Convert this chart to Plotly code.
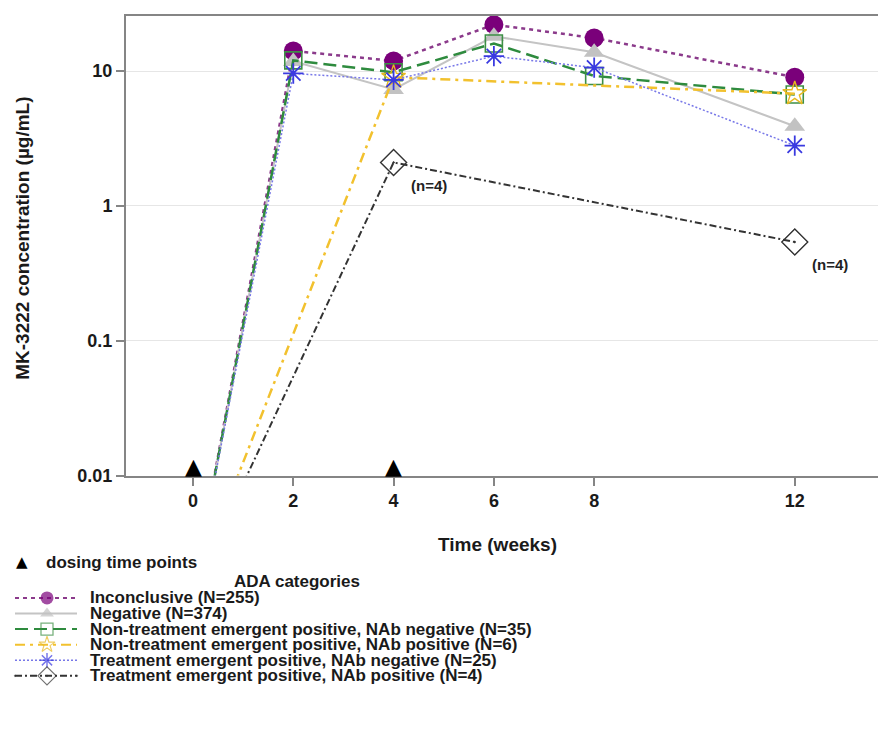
import numpy as np
import plotly.graph_objects as go

# ---- data -------------------------------------------------------------
weeks = [0, 2, 4, 6, 8, 12]
inconclusive = [0.0014, 14.1, 11.9, 22.1, 17.6, 9.0]
negative = [0.0014, 11.8, 7.3, 18.1, 13.8, 3.9]
nte_nab_neg = [0.0014, 12.0, 9.8, 16.0, 9.2, 6.7]
nte_nab_pos_weeks = [0, 4, 12]
nte_nab_pos = [0.0014, 9.0, 6.8]
te_nab_neg = [0.0014, 9.6, 8.6, 12.9, 10.6, 2.8]
te_nab_pos_weeks = [0, 4, 12]
te_nab_pos = [0.0014, 2.1, 0.54]
te_nab_pos_n = ["(n=4)", "(n=4)"]

dosing_weeks = [0, 4]

series_names = [
    "Inconclusive (N=255)",
    "Negative (N=374)",
    "Non-treatment emergent positive, NAb negative (N=35)",
    "Non-treatment emergent positive, NAb positive (N=6)",
    "Treatment emergent positive, NAb negative (N=25)",
    "Treatment emergent positive, NAb positive (N=4)",
]

x_tick_vals = [0, 2, 4, 6, 8, 12]
y_tick_vals = [0.01, 0.1, 1, 10]
y_tick_text = ["0.01", "0.1", "1", "10"]

# ---- styling ------------------------------------------------------------
W, H = 878, 749
FONT = "Liberation Sans"
TXT = "#1a1a1a"
AXIS = "#858585"


def bold(s):
    return f"<b>{s}</b>"


styles = [
    dict(lc="#8b3a8b", lw=2.5, dash="4px,4px", sym="circle", mc="#7a007a", size=19, ml=0),
    dict(lc="#c4c4c4", lw=2.0, dash="solid", sym="triangle-up", mc="#c2c2c2", size=18, ml=0),
    dict(lc="#2e8b3e", lw=2.5, dash="13px,6px", sym="square-open", mc="#3d8f45", size=17, ml=1.6),
    dict(lc="#f2c12e", lw=2.5, dash="10px,5px,3px,5px", sym="star-open", mc="#e8b820", size=18, ml=1.4),
    dict(lc="#7878e8", lw=1.5, dash="2px,2px", sym="asterisk-open", mc="#3a3ae0", size=17, ml=1.8),
    dict(lc="#333333", lw=2.0, dash="7px,3px,2px,3px", sym="diamond-open-dot", mc="#333333", size=20, ml=1.4),
]

series_x = [weeks, weeks, weeks, nte_nab_pos_weeks, weeks, te_nab_pos_weeks]
series_y = [inconclusive, negative, nte_nab_neg, nte_nab_pos, te_nab_neg, te_nab_pos]

fig = go.Figure()

# main concentration-time curves
for name, xs, ys, st in zip(series_names, series_x, series_y, styles):
    fig.add_trace(go.Scatter(
        x=xs, y=ys, name=name, mode="lines+markers",
        line=dict(color=st["lc"], width=st["lw"], dash=st["dash"]),
        marker=dict(symbol=st["sym"], size=st["size"], color=st["mc"],
                    line=dict(color=st["mc"], width=st["ml"])),
        showlegend=False, xaxis="x", yaxis="y",
    ))

# ---- hand-built legend drawn on a full-page pixel axis -------------------
LEG_X0, LEG_XM, LEG_X1 = 15, 47, 77
LEG_TEXT_X = 88
LEG_ROW0, LEG_DY = 606, 15.8
for i, st in enumerate(styles):
    ry = LEG_ROW0 + i * LEG_DY
    fig.add_trace(go.Scatter(
        x=[LEG_X0, LEG_XM, LEG_X1], y=[ry, ry, ry], mode="lines+markers",
        line=dict(color=st["lc"], width=min(st["lw"], 2.0), dash=st["dash"]),
        marker=dict(symbol=st["sym"], size=[0, round(st["size"] * 0.68), 0],
                    color=st["mc"], line=dict(color=st["mc"], width=st["ml"] * 0.8)),
        showlegend=False, xaxis="x2", yaxis="y2", hoverinfo="skip",
    ))

LEG_FONT = dict(family=FONT, size=17, color=TXT)
annotations = []
for i, name in enumerate(series_names):
    annotations.append(dict(
        x=LEG_TEXT_X, y=LEG_ROW0 + i * LEG_DY, xref="x2", yref="y2",
        text=bold(name), showarrow=False, xanchor="left", yanchor="middle",
        font=LEG_FONT,
    ))
annotations.append(dict(
    x=297, y=589, xref="x2", yref="y2", text=bold("ADA categories"), showarrow=False,
    xanchor="center", yanchor="middle", font=LEG_FONT,
))
annotations.append(dict(
    x=44, y=570, xref="x2", yref="y2", text=bold("dosing time points"), showarrow=False,
    xanchor="left", yanchor="middle", font=LEG_FONT,
))
annotations.append(dict(
    x=22, y=570, xref="x2", yref="y2", text="▲", showarrow=False,
    xanchor="center", yanchor="middle", font=dict(family="DejaVu Sans", size=15, color="#000"),
))

# dosing markers sitting on the time axis
for d in dosing_weeks:
    annotations.append(dict(
        x=d, y=np.log10(y_tick_vals[0]), xref="x", yref="y", text="▲",
        showarrow=False, xanchor="center", yanchor="bottom", yshift=-5,
        font=dict(family="DejaVu Sans", size=22, color="#000"),
    ))

# subject counts next to the last series
for xv, yv, lab in zip(te_nab_pos_weeks[1:], te_nab_pos[1:], te_nab_pos_n):
    annotations.append(dict(
        x=xv, y=np.log10(yv), xref="x", yref="y", text=bold(lab),
        showarrow=False, xanchor="center", yanchor="middle", xshift=35, yshift=-23,
        font=dict(family=FONT, size=15, color="#222"),
    ))

# axis titles
TITLE_FONT = dict(family=FONT, size=19, color=TXT)
annotations.append(dict(
    x=23, y=242, xref="x2", yref="y2", text=bold("MK-3222 concentration (µg/mL)"),
    showarrow=False, textangle=-90, xanchor="center", yanchor="middle",
    font=TITLE_FONT,
))
annotations.append(dict(
    x=497, y=552, xref="x2", yref="y2", text=bold("Time (weeks)"), showarrow=False,
    xanchor="center", yanchor="middle", font=TITLE_FONT,
))

PLOT_L, PLOT_T, PLOT_B = 126, 16, 482
TICK_FONT = dict(family=FONT, size=18, color=TXT, weight="bold")
fig.update_layout(
    width=W, height=H,
    margin=dict(l=0, r=0, t=0, b=0),
    paper_bgcolor="white", plot_bgcolor="rgba(0,0,0,0)",
    showlegend=False,
    font=dict(family=FONT, size=17, color=TXT),
    xaxis=dict(
        domain=[PLOT_L / W, 1], range=[-1.336, 13.66],
        tickvals=x_tick_vals, ticks="outside", ticklen=8, tickwidth=1.5,
        tickcolor=AXIS, showline=True, linecolor=AXIS, linewidth=2,
        mirror=True, showgrid=False, zeroline=False, anchor="y",
        tickfont=TICK_FONT,
    ),
    yaxis=dict(
        domain=[1 - PLOT_B / H, 1 - PLOT_T / H], type="log", range=[-2, 1.41],
        tickvals=y_tick_vals, ticktext=y_tick_text, ticks="outside", ticklen=8,
        tickwidth=1.5, tickcolor=AXIS, showline=True, linecolor=AXIS, linewidth=2,
        showgrid=True, gridcolor="#e6e6e6", gridwidth=1, zeroline=False, anchor="x",
        tickfont=TICK_FONT,
    ),
    xaxis2=dict(domain=[0, 1], range=[0, W], visible=False, anchor="y2", fixedrange=True),
    yaxis2=dict(domain=[0, 1], range=[H, 0], visible=False, anchor="x2", fixedrange=True),
    annotations=annotations,
)

fig.write_html("out.html")
